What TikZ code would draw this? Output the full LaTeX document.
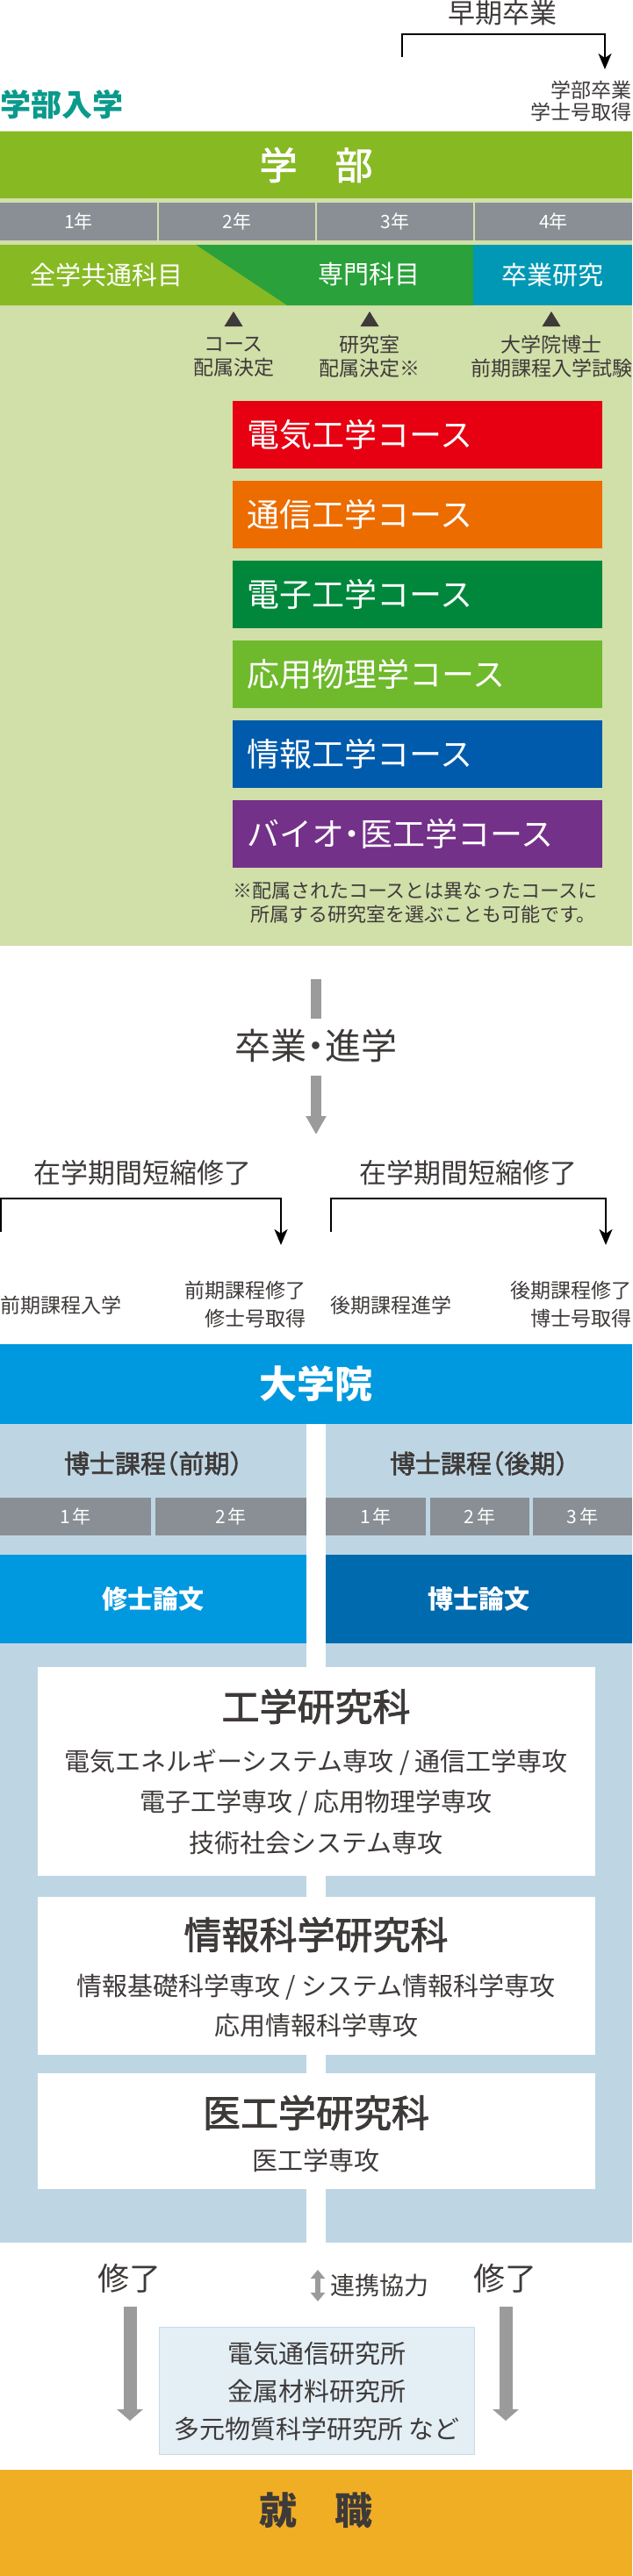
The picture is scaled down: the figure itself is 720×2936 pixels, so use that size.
\documentclass[tikz,border=0pt]{standalone}
\usepackage{fontspec}
\setmainfont{Noto Sans CJK JP}
\newfontface\jpmed{Noto Sans CJK JP}[FakeBold=2]
\usetikzlibrary{arrows.meta}
\definecolor{dk}{HTML}{3E3A39}
\definecolor{tealtxt}{HTML}{0A9A8C}
\definecolor{lgreen}{HTML}{D1DFA9}
\definecolor{ggreen}{HTML}{87B923}
\definecolor{dgreen}{HTML}{2AA13A}
\definecolor{bteal}{HTML}{0098B4}
\definecolor{ygray}{HTML}{898F94}
\definecolor{cred}{HTML}{E60012}
\definecolor{corange}{HTML}{EC6C00}
\definecolor{cgreen}{HTML}{00873C}
\definecolor{cyg}{HTML}{6FB92C}
\definecolor{cblue}{HTML}{005BAC}
\definecolor{cpurple}{HTML}{743189}
\definecolor{arrgray}{HTML}{9B9B9B}
\definecolor{gblue}{HTML}{0098DF}
\definecolor{gdblue}{HTML}{006AAE}
\definecolor{lblue}{HTML}{BED6E3}
\definecolor{instbg}{HTML}{E3EEF5}
\definecolor{instbd}{HTML}{C6DCE9}
\definecolor{jorange}{HTML}{F0AE25}
\newcommand{\fsz}[2]{\fontsize{#1pt}{#2pt}\selectfont}
\begin{document}
\begin{tikzpicture}[x=1pt,y=-1pt,
  every node/.style={inner sep=0pt,outer sep=0pt},
  box/.style={anchor=north west,draw=none,inner sep=0pt},
  ycell/.style={box,fill=ygray,minimum height=43pt,text=white,font=\fsz{21}{21}},
  course/.style={box,minimum width=421pt,minimum height=77pt,text width=389pt,inner xsep=16pt,align=left,text=white,font=\fsz{37}{37}},
  lbl/.style={text=dk,font=\fsz{23}{27},align=center},
  bk/.style={draw=black,line width=2pt,-{Stealth[length=18pt,width=15pt,inset=5pt]}},
  gbar/.style={draw=arrgray,line width=12pt},
  wbox/.style={box,fill=white,minimum width=635pt},
  title/.style={text=dk,font=\jpmed\fsz{43}{43}},
  body/.style={text=dk,align=center}
]
\useasboundingbox (0,0) rectangle (720,2936);
\fill[white] (0,0) rectangle (720,2936);

% ---- top: early graduation
\node[text=dk,font=\fsz{31}{31}] (early) at (572,15) {早期卒業};
\coordinate (eb1) at (458,65);
\coordinate (eb2) at (689,79);
\draw[bk] (eb1) -- ++(0,-26) -| (eb2);
\node[text=dk,font=\fsz{23}{25},align=right,anchor=east] (ugdeg) at (719,115.5) {学部卒業\\学士号取得};
\node[text=tealtxt,font=\fsz{35}{35}\bfseries,anchor=west] (ent) at (1,119) {学部入学};

% ---- undergraduate
\node[box,fill=lgreen,minimum width=720pt,minimum height=929pt] (ug) at (0,149) {};
\node[box,fill=ggreen,minimum width=720pt,minimum height=76pt,text=white,font=\jpmed\fsz{43}{43}] (gakubu) at (0,150) {学　部};
\node[ycell,minimum width=179pt] (y1) at (0,231) {1年};
\node[ycell,minimum width=178pt] (y2) at (181,231) {2年};
\node[ycell,minimum width=178pt] (y3) at (361,231) {3年};
\node[ycell,minimum width=179pt] (y4) at (541,231) {4年};
\fill[ggreen] (0,279) -- (223,279) -- (327,348) -- (0,348) -- cycle;
\fill[dgreen] (223,279) -- (539,279) -- (539,348) -- (327,348) -- cycle;
\node[text=white,font=\fsz{29}{29}] (common) at (121,313) {全学共通科目};
\node[text=white,font=\fsz{29}{29}] (spec) at (420,313) {専門科目};
\node[box,fill=bteal,minimum width=181pt,minimum height=69pt,text=white,font=\fsz{29}{29}] (thesis) at (539,279) {卒業研究};
\foreach \x in {266,421,628} \fill[dk] (\x-10.5,372) -- (\x+10.5,372) -- (\x,355) -- cycle;
\node[lbl] (l1) at (266,406.5) {コース\\配属決定};
\node[lbl] (l2) at (421,406.5) {研究室\\配属決定※};
\node[lbl] (l3) at (628,406.5) {大学院博士\\前期課程入学試験};
\node[course,fill=cred] (c1) at (265,457) {電気工学コース};
\node[course,fill=corange] (c2) at (265,548) {通信工学コース};
\node[course,fill=cgreen] (c3) at (265,639) {電子工学コース};
\node[course,fill=cyg] (c4) at (265,730) {応用物理学コース};
\node[course,fill=cblue] (c5) at (265,821) {情報工学コース};
\node[course,fill=cpurple] (c6) at (265,912) {\addfontfeature{RawFeature=+halt}バイオ・医工学コース};
\node[text=dk,font=\fsz{22}{27},align=left,anchor=west] (note) at (265,1029.5) {※配属されたコースとは異なったコースに\\\hspace*{20pt}所属する研究室を選ぶことも可能です。};

% ---- graduation / progression
\coordinate (m1) at (360,1116);
\coordinate (m2) at (360,1161);
\draw[gbar] (m1) -- (m2);
\node[text=dk,font=\fsz{41}{41}\addfontfeature{RawFeature=+halt}] (sotsu) at (360,1192) {卒業・進学};
\coordinate (m3) at (360,1226);
\coordinate (m4) at (360,1293);
\draw[gbar,-{Triangle[length=21pt,width=22pt]}] (m3) -- (m4);

\node[text=dk,font=\fsz{31}{31}] (short1) at (162,1337) {在学期間短縮修了};
\node[text=dk,font=\fsz{31}{31}] (short2) at (533,1337) {在学期間短縮修了};
\coordinate (lb1) at (1,1404);
\coordinate (lb2) at (320,1419);
\draw[bk] (lb1) -- ++(0,-38) -| (lb2);
\coordinate (rb1) at (377,1404);
\coordinate (rb2) at (690,1419);
\draw[bk] (rb1) -- ++(0,-38) -| (rb2);
\node[text=dk,font=\fsz{23}{23},anchor=west] (g1) at (1,1488) {前期課程入学};
\node[text=dk,font=\fsz{23}{32},align=right,anchor=east] (g2) at (348,1487) {前期課程修了\\修士号取得};
\node[text=dk,font=\fsz{23}{23},anchor=west] (g3) at (376,1488) {後期課程進学};
\node[text=dk,font=\fsz{23}{32},align=right,anchor=east] (g4) at (719,1487) {後期課程修了\\博士号取得};

% ---- graduate school
\node[box,fill=gblue,minimum width=720pt,minimum height=91pt,text=white,font=\fsz{43}{43}\bfseries] (daigakuin) at (0,1532) {大学院};
\node[box,fill=lblue,minimum width=349pt,minimum height=933pt] (colL) at (0,1623) {};
\node[box,fill=lblue,minimum width=349pt,minimum height=933pt] (colR) at (371,1623) {};
\node[text=dk,font=\jpmed\fsz{29}{29}\addfontfeature{RawFeature=+halt}] (mc) at (174.5,1668) {博士課程（前期）};
\node[text=dk,font=\jpmed\fsz{29}{29}\addfontfeature{RawFeature=+halt}] (dc) at (545.5,1668) {博士課程（後期）};
\node[ycell,minimum width=172pt] (gy1) at (0,1707) {1\hspace{3pt}年};
\node[ycell,minimum width=172pt] (gy2) at (177,1707) {2\hspace{3pt}年};
\node[ycell,minimum width=114pt] (gy3) at (371,1707) {1\hspace{3pt}年};
\node[ycell,minimum width=113pt] (gy4) at (490,1707) {2\hspace{3pt}年};
\node[ycell,minimum width=113pt] (gy5) at (607,1707) {3\hspace{3pt}年};
\node[box,fill=gblue,minimum width=349pt,minimum height=101pt,text=white,font=\fsz{29}{29}\bfseries] (mth) at (0,1772) {修士論文};
\node[box,fill=gdblue,minimum width=349pt,minimum height=101pt,text=white,font=\fsz{29}{29}\bfseries] (dth) at (371,1772) {博士論文};

\node[wbox,minimum height=238pt] (eng) at (43,1900) {};
\node[title] (engt) at (360,1945) {工学研究科};
\node[body,font=\fsz{29}{46.5}] (engb) at (360,2053.5) {電気エネルギーシステム専攻 / 通信工学専攻\\電子工学専攻 / 応用物理学専攻\\技術社会システム専攻};
\node[wbox,minimum height=180pt] (inf) at (43,2162) {};
\node[title] (inft) at (360,2205) {情報科学研究科};
\node[body,font=\fsz{29}{45}] (infb) at (360,2285.5) {情報基礎科学専攻 / システム情報科学専攻\\応用情報科学専攻};
\node[wbox,minimum height=132pt] (bme) at (43,2363) {};
\node[title] (bmet) at (360,2408) {医工学研究科};
\node[body,font=\fsz{29}{29}] (bmeb) at (360,2462) {医工学専攻};

% ---- completion
\node[text=dk,font=\fsz{36}{36}] (done1) at (147,2597) {修了};
\node[text=dk,font=\fsz{36}{36}] (done2) at (575,2597) {修了};
\coordinate (d1) at (362,2587);
\coordinate (d2) at (362,2623);
\draw[draw=arrgray,line width=6pt,{Triangle[length=10pt,width=16pt]}-{Triangle[length=10pt,width=16pt]}] (d1) -- (d2);
\node[text=dk,font=\fsz{28}{28},anchor=west] (coop) at (376,2605) {連携協力};
\coordinate (a1) at (148,2629);
\coordinate (a2) at (148,2759);
\coordinate (a3) at (576,2629);
\coordinate (a4) at (576,2759);
\draw[draw=arrgray,line width=15pt,-{Triangle[length=13pt,width=29pt]}] (a1) -- (a2);
\draw[draw=arrgray,line width=15pt,-{Triangle[length=13pt,width=29pt]}] (a3) -- (a4);
\node[box,fill=instbg,draw=instbd,line width=1pt,minimum width=359pt,minimum height=145pt] (inst) at (181,2652) {};
\node[body,font=\fsz{29}{43}] (instt) at (361,2725) {電気通信研究所\\金属材料研究所\\多元物質科学研究所 など};

\node[box,fill=jorange,minimum width=720pt,minimum height=121pt] (job) at (0,2815) {};
\node[text=dk,font=\fsz{43}{43}\bfseries] (jobt) at (360,2861) {就　職};
\end{tikzpicture}
\end{document}
